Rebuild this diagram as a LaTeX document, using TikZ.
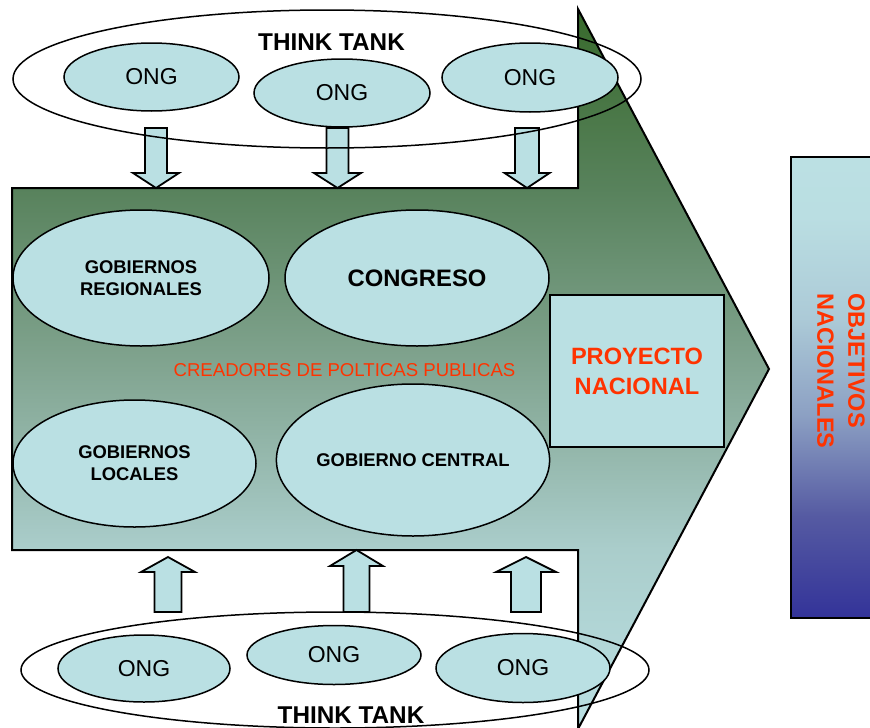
\documentclass[tikz,border=0pt]{standalone}
\usepackage{fontspec}
\setmainfont{Liberation Sans}
\usetikzlibrary{shapes.geometric}
\definecolor{ltblue}{RGB}{186,224,227}
\definecolor{redtxt}{RGB}{255,51,0}
\definecolor{ga}{RGB}{186,224,227}
\definecolor{gb}{RGB}{170,205,203}
\definecolor{gc}{RGB}{130,165,145}
\definecolor{gd}{RGB}{88,130,92}
\definecolor{ge}{RGB}{56,106,44}
\pgfdeclareverticalshading{arrowshade}{100bp}{color(0bp)=(ga); color(25bp)=(ga); color(37.5bp)=(gb); color(50bp)=(gc); color(62.5bp)=(gd); color(75bp)=(ge); color(100bp)=(ge)}
\definecolor{ba}{RGB}{51,51,153}
\definecolor{bb}{RGB}{85,90,162}
\definecolor{bc}{RGB}{140,160,195}
\definecolor{bd}{RGB}{172,202,215}
\definecolor{be}{RGB}{186,222,226}
\definecolor{bf}{RGB}{187,224,227}
\pgfdeclareverticalshading{objshade}{100bp}{color(0bp)=(ba); color(25bp)=(ba); color(36bp)=(bb); color(47bp)=(bc); color(57.5bp)=(bd); color(68.5bp)=(be); color(75bp)=(bf); color(100bp)=(bf)}
\newcommand\dnblk[3]{\draw[blk] (#1-#2,128) -- (#1+#2,128) -- (#1+#2,173) -- (#1+#3,173) -- (#1,188) -- (#1-#3,173) -- (#1-#2,173) -- cycle;}
\newcommand\upblk[5]{\draw[blk] (#1-#2,612) -- (#1-#2,#5) -- (#1-#3,#5) -- (#1,#4) -- (#1+#3,#5) -- (#1+#2,#5) -- (#1+#2,612) -- cycle;}
\tikzset{
  ell/.style={draw, ellipse, fill=ltblue, line width=1.5pt, inner sep=0pt, align=center},
  ong/.style={ell, font=\fontsize{23}{26}\selectfont},
  small/.style={font=\bfseries\fontsize{18.4}{22}\selectfont},
  big/.style={font=\bfseries\fontsize{23.8}{28}\selectfont},
  outer/.style={draw, ellipse, line width=1.5pt, inner sep=0pt},
  blk/.style={draw, fill=ltblue, line width=1.8pt, line join=miter},
}
\begin{document}
\begin{tikzpicture}[x=1pt, y=-1pt]
\clip (0,0) rectangle (870,728);
\fill[white] (0,0) rectangle (870,728);
% big block arrow
\shadedraw[shading=arrowshade, line width=2pt, line join=miter] (12,188) -- (578,188) -- (578,9) -- (769,369) -- (578,729) -- (578,550) -- (12,550) -- cycle;
% proyecto nacional
\node[draw, line width=2pt, fill=ltblue, minimum width=174, minimum height=152, inner sep=0pt, anchor=north west, text=redtxt, align=center, font=\bfseries\fontsize{23.6}{30}\selectfont] (proy) at (549,294) {PROYECTO\\NACIONAL};
% middle ellipses
\node[ell, small, minimum width=256, minimum height=136] (greg) at (141,278) {GOBIERNOS\\REGIONALES};
\node[ell, big, minimum width=264, minimum height=136] (cong) at (417,278) {CONGRESO};
\node[ell, small, minimum width=243, minimum height=127] (gloc) at (134.5,463.5) {GOBIERNOS\\LOCALES};
\node[ell, small, minimum width=272, minimum height=152] (gcen) at (413,460) {GOBIERNO CENTRAL};
\node[text=redtxt, inner sep=0pt, font=\fontsize{18.6}{22}\selectfont] (crea) at (344.5,370) {CREADORES DE POLTICAS PUBLICAS};
% block arrows
\dnblk{156}{11}{23}
\dnblk{337.5}{11}{23.5}
\dnblk{527}{12}{22.5}
\upblk{168}{13.5}{27}{557}{572}
\upblk{356.5}{13}{26.5}{550}{566}
\upblk{526}{15}{30}{557}{572}
% think tank outer ellipses
\node[outer, minimum width=628, minimum height=138] (tt1) at (327,79) {};
\node[outer, minimum width=628, minimum height=116] (tt2) at (335,670) {};
% ONG
\node[ong, minimum width=175, minimum height=68] (o1) at (151.5,77) {ONG};
\node[ong, minimum width=176, minimum height=68] (o2) at (342,93) {ONG};
\node[ong, minimum width=176, minimum height=69] (o3) at (530,77.5) {ONG};
\node[ong, minimum width=172, minimum height=67] (o4) at (144,668.5) {ONG};
\node[ong, minimum width=174, minimum height=59] (o5) at (334,655) {ONG};
\node[ong, minimum width=174, minimum height=69] (o6) at (523,668) {ONG};
\node[inner sep=0pt, font=\bfseries\fontsize{24.3}{28}\selectfont] (ttt1) at (331.5,42) {THINK TANK};
\node[inner sep=0pt, font=\bfseries\fontsize{24.3}{28}\selectfont] (ttt2) at (351,715) {THINK TANK};
% objetivos nacionales
\shadedraw[shading=objshade, line width=2pt] (791,157) rectangle (885,618);
\node[rotate=-90, anchor=west, align=left, inner sep=0pt, text=redtxt, font=\bfseries\fontsize{23.5}{31}\selectfont] (obj) at (841,293) {OBJETIVOS\\NACIONALES};
\end{tikzpicture}
\end{document}
